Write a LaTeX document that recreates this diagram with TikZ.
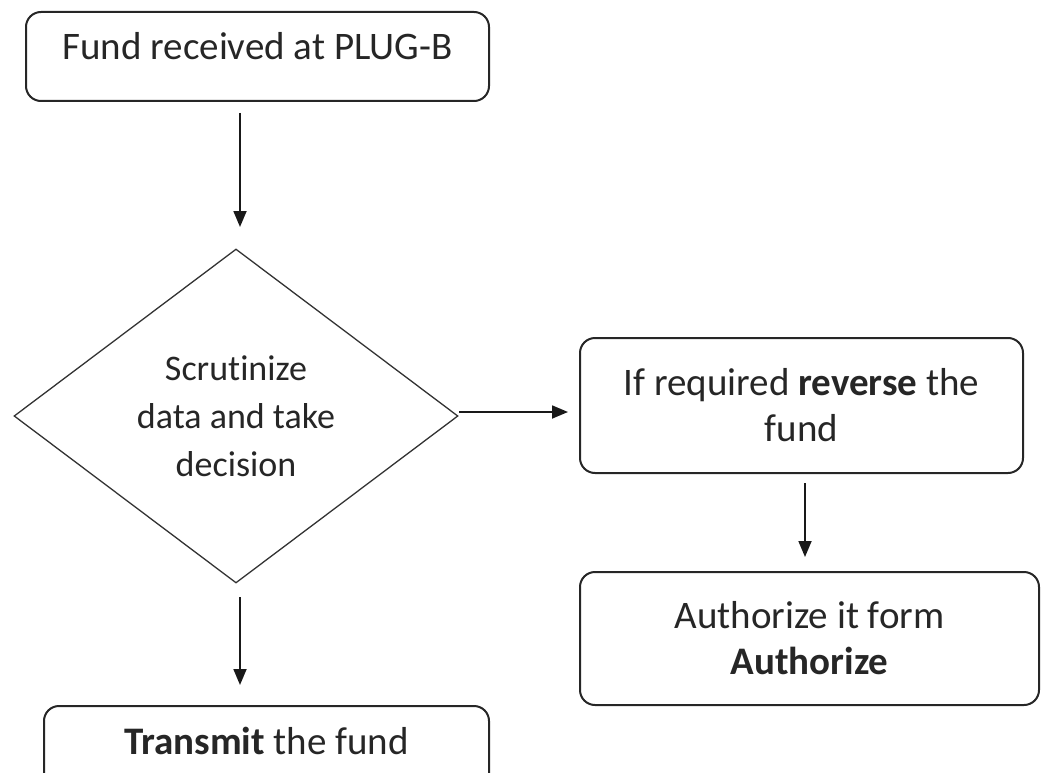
\documentclass[tikz,border=0pt]{standalone}
\usepackage{fontspec}
\setmainfont{Carlito}[Ligatures=NoCommon]
\usetikzlibrary{arrows.meta,shapes.geometric}
\tikzset{
  box/.style={draw=black!85, line width=2pt, rounded corners=15pt, align=center,
    inner sep=0pt, font=\fontsize{39}{46}\selectfont, text=black!85},
  onebox/.style={box, text height=27pt, text depth=20pt},
  dia/.style={draw=black!80, line width=1.3pt, diamond, inner sep=0pt, align=center,
    font=\fontsize{36}{48}\selectfont, text=black!85},
  arr/.style={line width=1.8pt, black!90, -{Triangle[width=13pt,length=16pt]}}
}
\begin{document}
\begin{tikzpicture}[x=1pt,y=-1pt]
\useasboundingbox (0,0) rectangle (1041,773);
\clip (0,0) rectangle (1041,773);
\node[onebox, minimum width=463pt, minimum height=89pt] (fund) at (257.5,56.5) {Fund received at PLUG-B};
\node[dia, minimum width=444pt, minimum height=334pt] (scr) at (236,416) {Scrutinize\\data and take\\decision};
\node[box, minimum width=443pt, minimum height=135pt] (rev) at (801.5,405.5) {If required \textbf{reverse} the\\fund};
\node[box, minimum width=459pt, minimum height=133pt] (auth) at (809.5,638.5) {Authorize it form\\\textbf{Authorize}};
\node[onebox, minimum width=445pt, minimum height=90pt, anchor=north] (trans) at (266.5,705) {\textbf{Transmit} the fund};
\coordinate (a1s) at (240,113);
\coordinate (a1e) at (240,227);
\draw[arr] (a1s) -- (a1e);
\coordinate (a2s) at (459,412);
\coordinate (a2e) at (568,412);
\draw[arr] (a2s) -- (a2e);
\coordinate (a3s) at (805,483);
\coordinate (a3e) at (805,557);
\draw[arr] (a3s) -- (a3e);
\coordinate (a4s) at (240,597);
\coordinate (a4e) at (240,685);
\draw[arr] (a4s) -- (a4e);
\end{tikzpicture}
\end{document}
